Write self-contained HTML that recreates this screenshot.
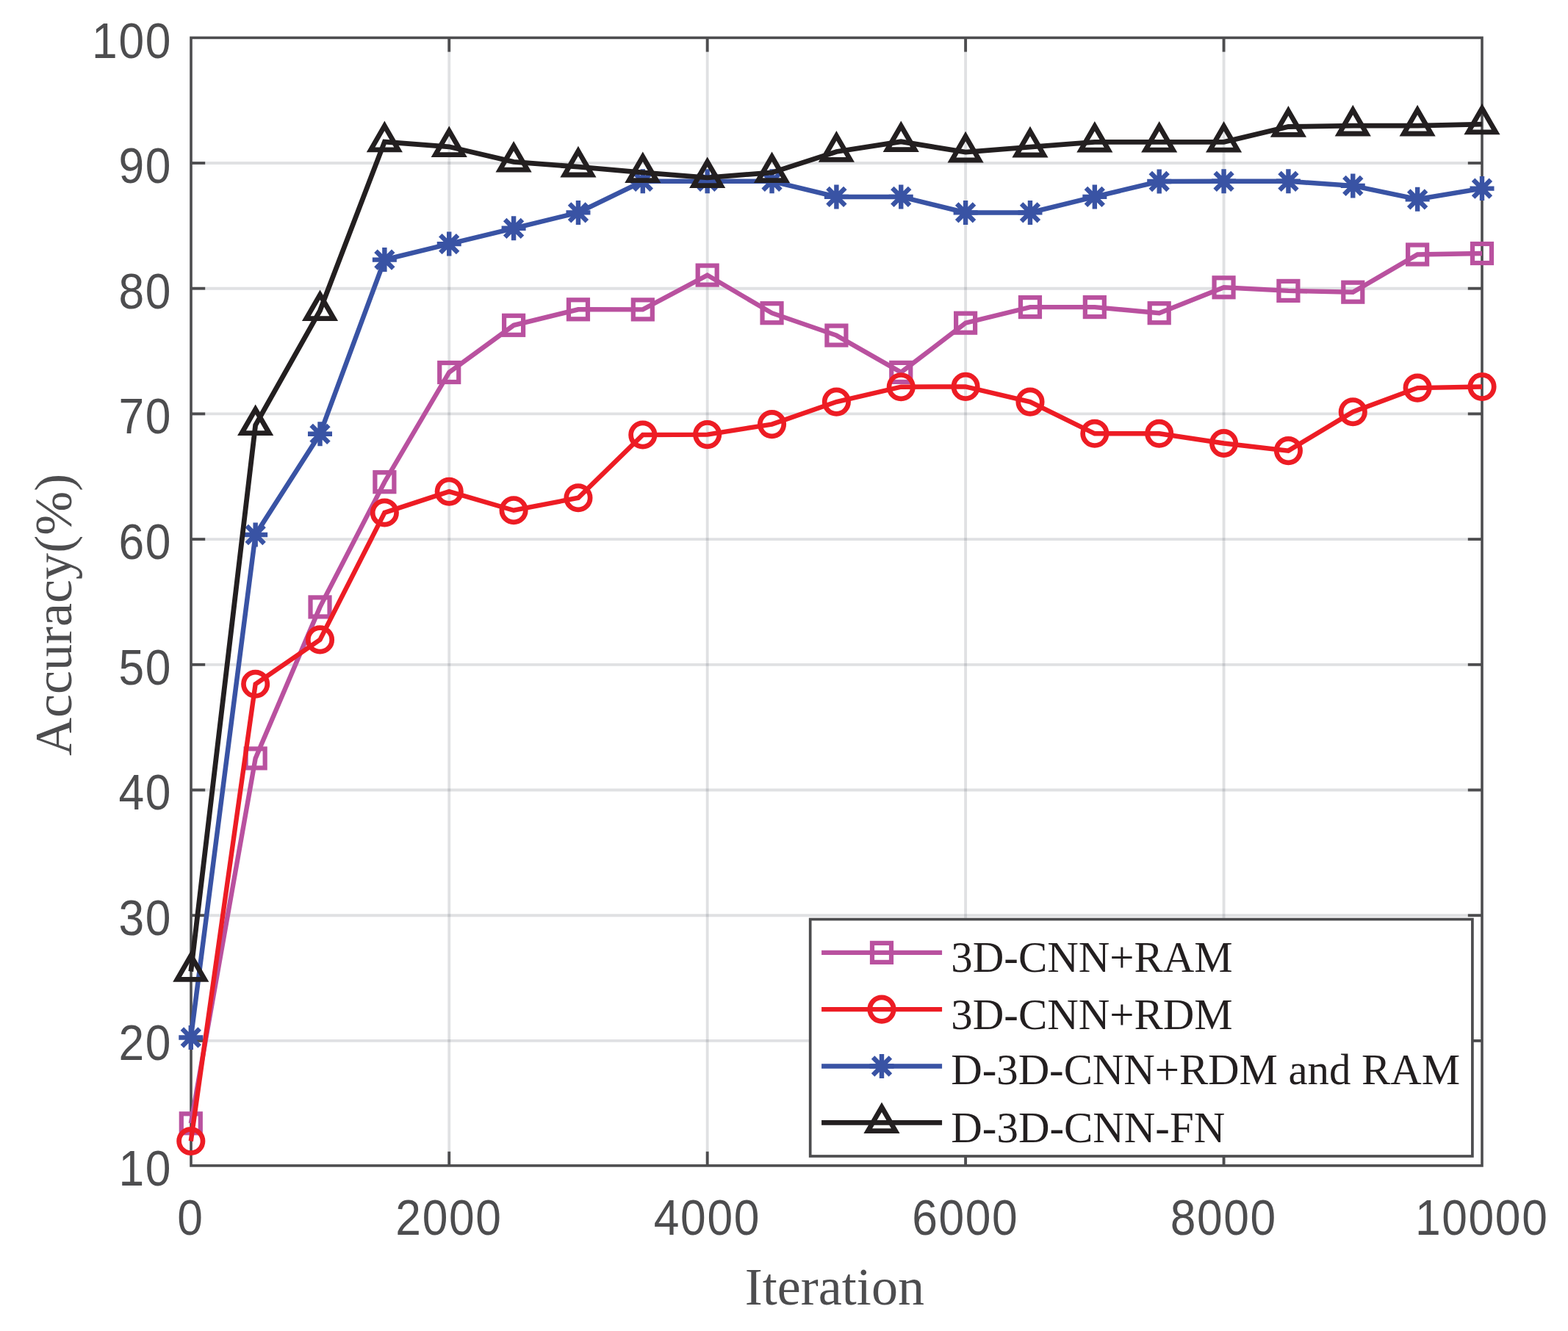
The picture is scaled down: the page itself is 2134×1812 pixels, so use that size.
<!DOCTYPE html>
<html lang="en"><head><meta charset="utf-8"><title>Accuracy vs Iteration</title>
<style>html,body{margin:0;padding:0;background:#fff}svg{display:block}.tk{font-family:"Liberation Sans",Arial,Helvetica,sans-serif;font-size:65.3px;fill:#4d4d4f}.lb{font-family:"Liberation Serif","Times New Roman",Times,serif;font-size:72.1px;fill:#4d4d4f}.lg{font-family:"Liberation Serif","Times New Roman",Times,serif;font-size:58.9px;fill:#231f20}</style></head><body>
<svg role="img" aria-label="Accuracy versus iteration for four models" width="2134" height="1812" viewBox="0 0 2134 1812">
<rect width="2134" height="1812" fill="#fff"/>
<g stroke="#222937" stroke-opacity="0.14" stroke-width="3.85" fill="none"><line x1="611.24" y1="51.4" x2="611.24" y2="1586.9"/><line x1="962.68" y1="51.4" x2="962.68" y2="1586.9"/><line x1="1314.12" y1="51.4" x2="1314.12" y2="1586.9"/><line x1="1665.56" y1="51.4" x2="1665.56" y2="1586.9"/><line x1="260" y1="1416.9" x2="2017" y2="1416.9"/><line x1="260" y1="1246.2" x2="2017" y2="1246.2"/><line x1="260" y1="1075.5" x2="2017" y2="1075.5"/><line x1="260" y1="904.8" x2="2017" y2="904.8"/><line x1="260" y1="734.1" x2="2017" y2="734.1"/><line x1="260" y1="563.4" x2="2017" y2="563.4"/><line x1="260" y1="392.7" x2="2017" y2="392.7"/><line x1="260" y1="222" x2="2017" y2="222"/></g>
<g stroke="#4d4d4f" stroke-width="3.85" fill="none">
<rect x="260" y="51.4" width="1757" height="1535.5" stroke-width="3.6"/>
<line x1="611.24" y1="1586.9" x2="611.24" y2="1567.7"/><line x1="611.24" y1="51.4" x2="611.24" y2="70.6"/><line x1="962.68" y1="1586.9" x2="962.68" y2="1567.7"/><line x1="962.68" y1="51.4" x2="962.68" y2="70.6"/><line x1="1314.12" y1="1586.9" x2="1314.12" y2="1567.7"/><line x1="1314.12" y1="51.4" x2="1314.12" y2="70.6"/><line x1="1665.56" y1="1586.9" x2="1665.56" y2="1567.7"/><line x1="1665.56" y1="51.4" x2="1665.56" y2="70.6"/><line x1="260" y1="1416.9" x2="279.2" y2="1416.9"/><line x1="2017" y1="1416.9" x2="1997.8" y2="1416.9"/><line x1="260" y1="1246.2" x2="279.2" y2="1246.2"/><line x1="2017" y1="1246.2" x2="1997.8" y2="1246.2"/><line x1="260" y1="1075.5" x2="279.2" y2="1075.5"/><line x1="2017" y1="1075.5" x2="1997.8" y2="1075.5"/><line x1="260" y1="904.8" x2="279.2" y2="904.8"/><line x1="2017" y1="904.8" x2="1997.8" y2="904.8"/><line x1="260" y1="734.1" x2="279.2" y2="734.1"/><line x1="2017" y1="734.1" x2="1997.8" y2="734.1"/><line x1="260" y1="563.4" x2="279.2" y2="563.4"/><line x1="2017" y1="563.4" x2="1997.8" y2="563.4"/><line x1="260" y1="392.7" x2="279.2" y2="392.7"/><line x1="2017" y1="392.7" x2="1997.8" y2="392.7"/><line x1="260" y1="222" x2="279.2" y2="222"/><line x1="2017" y1="222" x2="1997.8" y2="222"/>
</g>
<g class="tk" text-anchor="end" style="letter-spacing:1.7px">
<text transform="translate(234 1613.5) scale(0.955 1.055)">10</text>
<text transform="translate(234 1443.03) scale(0.955 1.055)">20</text>
<text transform="translate(234 1272.55) scale(0.955 1.055)">30</text>
<text transform="translate(234 1102.08) scale(0.955 1.055)">40</text>
<text transform="translate(234 931.6) scale(0.955 1.055)">50</text>
<text transform="translate(234 761) scale(0.955 1.055)">60</text>
<text transform="translate(234 590.4) scale(0.955 1.055)">70</text>
<text transform="translate(234 419.8) scale(0.955 1.055)">80</text>
<text transform="translate(234 249.2) scale(0.955 1.055)">90</text>
<text transform="translate(234 78.9) scale(0.955 1.055)">100</text>
</g>
<g class="tk" text-anchor="middle" style="letter-spacing:1.7px">
<text transform="translate(259.5 1680.5) scale(0.955 1.055)">0</text>
<text transform="translate(610.94 1680.5) scale(0.955 1.055)">2000</text>
<text transform="translate(962.38 1680.5) scale(0.955 1.055)">4000</text>
<text transform="translate(1313.82 1680.5) scale(0.955 1.055)">6000</text>
<text transform="translate(1665.26 1680.5) scale(0.955 1.055)">8000</text>
<text transform="translate(2016.7 1680.5) scale(0.955 1.055)">10000</text>
</g>
<text class="lb" text-anchor="middle" x="1135.9" y="1775.5">Iteration</text>
<text class="lb" text-anchor="middle" transform="translate(97.1 836.9) rotate(-90)">Accuracy(%)</text>
<g>
<polyline points="259.8,1529.3 347.66,1032.4 435.52,826.4 523.38,656.2 611.24,507 699.1,442.8 786.96,421.3 874.82,421.4 962.68,374.6 1050.54,426.2 1138.4,456.6 1226.26,506.9 1314.12,439.7 1401.98,418.1 1489.84,418.1 1577.7,426.2 1665.56,391.3 1753.42,395.9 1841.28,397.7 1929.14,346.5 2017,345" fill="none" stroke="#b9519f" stroke-width="6.4" stroke-linejoin="miter" stroke-miterlimit="10"/>
<rect x="246.8" y="1516.3" width="26" height="26" fill="none" stroke="#b9519f" stroke-width="6.2"/><rect x="334.66" y="1019.4" width="26" height="26" fill="none" stroke="#b9519f" stroke-width="6.2"/><rect x="422.52" y="813.4" width="26" height="26" fill="none" stroke="#b9519f" stroke-width="6.2"/><rect x="510.38" y="643.2" width="26" height="26" fill="none" stroke="#b9519f" stroke-width="6.2"/><rect x="598.24" y="494" width="26" height="26" fill="none" stroke="#b9519f" stroke-width="6.2"/><rect x="686.1" y="429.8" width="26" height="26" fill="none" stroke="#b9519f" stroke-width="6.2"/><rect x="773.96" y="408.3" width="26" height="26" fill="none" stroke="#b9519f" stroke-width="6.2"/><rect x="861.82" y="408.4" width="26" height="26" fill="none" stroke="#b9519f" stroke-width="6.2"/><rect x="949.68" y="361.6" width="26" height="26" fill="none" stroke="#b9519f" stroke-width="6.2"/><rect x="1037.54" y="413.2" width="26" height="26" fill="none" stroke="#b9519f" stroke-width="6.2"/><rect x="1125.4" y="443.6" width="26" height="26" fill="none" stroke="#b9519f" stroke-width="6.2"/><rect x="1213.26" y="493.9" width="26" height="26" fill="none" stroke="#b9519f" stroke-width="6.2"/><rect x="1301.12" y="426.7" width="26" height="26" fill="none" stroke="#b9519f" stroke-width="6.2"/><rect x="1388.98" y="405.1" width="26" height="26" fill="none" stroke="#b9519f" stroke-width="6.2"/><rect x="1476.84" y="405.1" width="26" height="26" fill="none" stroke="#b9519f" stroke-width="6.2"/><rect x="1564.7" y="413.2" width="26" height="26" fill="none" stroke="#b9519f" stroke-width="6.2"/><rect x="1652.56" y="378.3" width="26" height="26" fill="none" stroke="#b9519f" stroke-width="6.2"/><rect x="1740.42" y="382.9" width="26" height="26" fill="none" stroke="#b9519f" stroke-width="6.2"/><rect x="1828.28" y="384.7" width="26" height="26" fill="none" stroke="#b9519f" stroke-width="6.2"/><rect x="1916.14" y="333.5" width="26" height="26" fill="none" stroke="#b9519f" stroke-width="6.2"/><rect x="2004" y="332" width="26" height="26" fill="none" stroke="#b9519f" stroke-width="6.2"/>
</g>
<g>
<polyline points="259.8,1553.5 347.66,931.3 435.52,870.9 523.38,698 611.24,669.2 699.1,694.7 786.96,677.7 874.82,592 962.68,591.6 1050.54,577.6 1138.4,547.1 1226.26,526.7 1314.12,526.4 1401.98,547.1 1489.84,590.3 1577.7,590.3 1665.56,603.5 1753.42,613.6 1841.28,560.7 1929.14,528.1 2017,526.5" fill="none" stroke="#ed1c24" stroke-width="6.4" stroke-linejoin="miter" stroke-miterlimit="10"/>
<circle cx="259.8" cy="1553.5" r="16.2" fill="none" stroke="#ed1c24" stroke-width="6.7"/><circle cx="347.66" cy="931.3" r="16.2" fill="none" stroke="#ed1c24" stroke-width="6.7"/><circle cx="435.52" cy="870.9" r="16.2" fill="none" stroke="#ed1c24" stroke-width="6.7"/><circle cx="523.38" cy="698" r="16.2" fill="none" stroke="#ed1c24" stroke-width="6.7"/><circle cx="611.24" cy="669.2" r="16.2" fill="none" stroke="#ed1c24" stroke-width="6.7"/><circle cx="699.1" cy="694.7" r="16.2" fill="none" stroke="#ed1c24" stroke-width="6.7"/><circle cx="786.96" cy="677.7" r="16.2" fill="none" stroke="#ed1c24" stroke-width="6.7"/><circle cx="874.82" cy="592" r="16.2" fill="none" stroke="#ed1c24" stroke-width="6.7"/><circle cx="962.68" cy="591.6" r="16.2" fill="none" stroke="#ed1c24" stroke-width="6.7"/><circle cx="1050.54" cy="577.6" r="16.2" fill="none" stroke="#ed1c24" stroke-width="6.7"/><circle cx="1138.4" cy="547.1" r="16.2" fill="none" stroke="#ed1c24" stroke-width="6.7"/><circle cx="1226.26" cy="526.7" r="16.2" fill="none" stroke="#ed1c24" stroke-width="6.7"/><circle cx="1314.12" cy="526.4" r="16.2" fill="none" stroke="#ed1c24" stroke-width="6.7"/><circle cx="1401.98" cy="547.1" r="16.2" fill="none" stroke="#ed1c24" stroke-width="6.7"/><circle cx="1489.84" cy="590.3" r="16.2" fill="none" stroke="#ed1c24" stroke-width="6.7"/><circle cx="1577.7" cy="590.3" r="16.2" fill="none" stroke="#ed1c24" stroke-width="6.7"/><circle cx="1665.56" cy="603.5" r="16.2" fill="none" stroke="#ed1c24" stroke-width="6.7"/><circle cx="1753.42" cy="613.6" r="16.2" fill="none" stroke="#ed1c24" stroke-width="6.7"/><circle cx="1841.28" cy="560.7" r="16.2" fill="none" stroke="#ed1c24" stroke-width="6.7"/><circle cx="1929.14" cy="528.1" r="16.2" fill="none" stroke="#ed1c24" stroke-width="6.7"/><circle cx="2017" cy="526.5" r="16.2" fill="none" stroke="#ed1c24" stroke-width="6.7"/>
</g>
<g>
<polyline points="259.8,1412.5 347.66,728 435.52,590.8 523.38,353.6 611.24,332.1 699.1,310.8 786.96,289.4 874.82,246.8 962.68,246.8 1050.54,246.8 1138.4,267.9 1226.26,267.9 1314.12,289.4 1401.98,289.4 1489.84,267.9 1577.7,247 1665.56,246.8 1753.42,246.8 1841.28,252.9 1929.14,271.3 2017,256.6" fill="none" stroke="#3953a4" stroke-width="6.5" stroke-linejoin="miter" stroke-miterlimit="10"/>
<path d="M243.3 1412.5H276.3M259.8 1396V1429M247.9 1400.6L271.7 1424.4M247.9 1424.4L271.7 1400.6" fill="none" stroke="#3953a4" stroke-width="6.4"/><path d="M331.16 728H364.16M347.66 711.5V744.5M335.76 716.1L359.56 739.9M335.76 739.9L359.56 716.1" fill="none" stroke="#3953a4" stroke-width="6.4"/><path d="M419.02 590.8H452.02M435.52 574.3V607.3M423.62 578.9L447.42 602.7M423.62 602.7L447.42 578.9" fill="none" stroke="#3953a4" stroke-width="6.4"/><path d="M506.88 353.6H539.88M523.38 337.1V370.1M511.48 341.7L535.28 365.5M511.48 365.5L535.28 341.7" fill="none" stroke="#3953a4" stroke-width="6.4"/><path d="M594.74 332.1H627.74M611.24 315.6V348.6M599.34 320.2L623.14 344M599.34 344L623.14 320.2" fill="none" stroke="#3953a4" stroke-width="6.4"/><path d="M682.6 310.8H715.6M699.1 294.3V327.3M687.2 298.9L711 322.7M687.2 322.7L711 298.9" fill="none" stroke="#3953a4" stroke-width="6.4"/><path d="M770.46 289.4H803.46M786.96 272.9V305.9M775.06 277.5L798.86 301.3M775.06 301.3L798.86 277.5" fill="none" stroke="#3953a4" stroke-width="6.4"/><path d="M858.32 246.8H891.32M874.82 230.3V263.3M862.92 234.9L886.72 258.7M862.92 258.7L886.72 234.9" fill="none" stroke="#3953a4" stroke-width="6.4"/><path d="M946.18 246.8H979.18M962.68 230.3V263.3M950.78 234.9L974.58 258.7M950.78 258.7L974.58 234.9" fill="none" stroke="#3953a4" stroke-width="6.4"/><path d="M1034.04 246.8H1067.04M1050.54 230.3V263.3M1038.64 234.9L1062.44 258.7M1038.64 258.7L1062.44 234.9" fill="none" stroke="#3953a4" stroke-width="6.4"/><path d="M1121.9 267.9H1154.9M1138.4 251.4V284.4M1126.5 256L1150.3 279.8M1126.5 279.8L1150.3 256" fill="none" stroke="#3953a4" stroke-width="6.4"/><path d="M1209.76 267.9H1242.76M1226.26 251.4V284.4M1214.36 256L1238.16 279.8M1214.36 279.8L1238.16 256" fill="none" stroke="#3953a4" stroke-width="6.4"/><path d="M1297.62 289.4H1330.62M1314.12 272.9V305.9M1302.22 277.5L1326.02 301.3M1302.22 301.3L1326.02 277.5" fill="none" stroke="#3953a4" stroke-width="6.4"/><path d="M1385.48 289.4H1418.48M1401.98 272.9V305.9M1390.08 277.5L1413.88 301.3M1390.08 301.3L1413.88 277.5" fill="none" stroke="#3953a4" stroke-width="6.4"/><path d="M1473.34 267.9H1506.34M1489.84 251.4V284.4M1477.94 256L1501.74 279.8M1477.94 279.8L1501.74 256" fill="none" stroke="#3953a4" stroke-width="6.4"/><path d="M1561.2 247H1594.2M1577.7 230.5V263.5M1565.8 235.1L1589.6 258.9M1565.8 258.9L1589.6 235.1" fill="none" stroke="#3953a4" stroke-width="6.4"/><path d="M1649.06 246.8H1682.06M1665.56 230.3V263.3M1653.66 234.9L1677.46 258.7M1653.66 258.7L1677.46 234.9" fill="none" stroke="#3953a4" stroke-width="6.4"/><path d="M1736.92 246.8H1769.92M1753.42 230.3V263.3M1741.52 234.9L1765.32 258.7M1741.52 258.7L1765.32 234.9" fill="none" stroke="#3953a4" stroke-width="6.4"/><path d="M1824.78 252.9H1857.78M1841.28 236.4V269.4M1829.38 241L1853.18 264.8M1829.38 264.8L1853.18 241" fill="none" stroke="#3953a4" stroke-width="6.4"/><path d="M1912.64 271.3H1945.64M1929.14 254.8V287.8M1917.24 259.4L1941.04 283.2M1917.24 283.2L1941.04 259.4" fill="none" stroke="#3953a4" stroke-width="6.4"/><path d="M2000.5 256.6H2033.5M2017 240.1V273.1M2005.1 244.7L2028.9 268.5M2005.1 268.5L2028.9 244.7" fill="none" stroke="#3953a4" stroke-width="6.4"/>
</g>
<g>
<polyline points="259.8,1322.5 347.66,578.9 435.52,422.8 523.38,193 611.24,199.8 699.1,220.3 786.96,227.2 874.82,234.9 962.68,241.8 1050.54,234.9 1138.4,206.5 1226.26,192.8 1314.12,207.2 1401.98,200.2 1489.84,193.3 1577.7,193.3 1665.56,193.3 1753.42,172.5 1841.28,171.2 1929.14,171.2 2017,169.1" fill="none" stroke="#231f20" stroke-width="6.8" stroke-linejoin="miter" stroke-miterlimit="10"/>
<path d="M259.8 1300.9L278.5 1333.3L241.1 1333.3Z" fill="none" stroke="#231f20" stroke-width="6.8" stroke-linejoin="miter" stroke-miterlimit="10"/><path d="M347.66 557.3L366.36 589.7L328.96 589.7Z" fill="none" stroke="#231f20" stroke-width="6.8" stroke-linejoin="miter" stroke-miterlimit="10"/><path d="M435.52 401.2L454.22 433.6L416.82 433.6Z" fill="none" stroke="#231f20" stroke-width="6.8" stroke-linejoin="miter" stroke-miterlimit="10"/><path d="M523.38 171.4L542.08 203.8L504.68 203.8Z" fill="none" stroke="#231f20" stroke-width="6.8" stroke-linejoin="miter" stroke-miterlimit="10"/><path d="M611.24 178.2L629.94 210.6L592.54 210.6Z" fill="none" stroke="#231f20" stroke-width="6.8" stroke-linejoin="miter" stroke-miterlimit="10"/><path d="M699.1 198.7L717.8 231.1L680.4 231.1Z" fill="none" stroke="#231f20" stroke-width="6.8" stroke-linejoin="miter" stroke-miterlimit="10"/><path d="M786.96 205.6L805.66 238L768.26 238Z" fill="none" stroke="#231f20" stroke-width="6.8" stroke-linejoin="miter" stroke-miterlimit="10"/><path d="M874.82 213.3L893.52 245.7L856.12 245.7Z" fill="none" stroke="#231f20" stroke-width="6.8" stroke-linejoin="miter" stroke-miterlimit="10"/><path d="M962.68 220.2L981.38 252.6L943.98 252.6Z" fill="none" stroke="#231f20" stroke-width="6.8" stroke-linejoin="miter" stroke-miterlimit="10"/><path d="M1050.54 213.3L1069.24 245.7L1031.84 245.7Z" fill="none" stroke="#231f20" stroke-width="6.8" stroke-linejoin="miter" stroke-miterlimit="10"/><path d="M1138.4 184.9L1157.1 217.3L1119.7 217.3Z" fill="none" stroke="#231f20" stroke-width="6.8" stroke-linejoin="miter" stroke-miterlimit="10"/><path d="M1226.26 171.2L1244.96 203.6L1207.56 203.6Z" fill="none" stroke="#231f20" stroke-width="6.8" stroke-linejoin="miter" stroke-miterlimit="10"/><path d="M1314.12 185.6L1332.82 218L1295.42 218Z" fill="none" stroke="#231f20" stroke-width="6.8" stroke-linejoin="miter" stroke-miterlimit="10"/><path d="M1401.98 178.6L1420.68 211L1383.28 211Z" fill="none" stroke="#231f20" stroke-width="6.8" stroke-linejoin="miter" stroke-miterlimit="10"/><path d="M1489.84 171.7L1508.54 204.1L1471.14 204.1Z" fill="none" stroke="#231f20" stroke-width="6.8" stroke-linejoin="miter" stroke-miterlimit="10"/><path d="M1577.7 171.7L1596.4 204.1L1559 204.1Z" fill="none" stroke="#231f20" stroke-width="6.8" stroke-linejoin="miter" stroke-miterlimit="10"/><path d="M1665.56 171.7L1684.26 204.1L1646.86 204.1Z" fill="none" stroke="#231f20" stroke-width="6.8" stroke-linejoin="miter" stroke-miterlimit="10"/><path d="M1753.42 150.9L1772.12 183.3L1734.72 183.3Z" fill="none" stroke="#231f20" stroke-width="6.8" stroke-linejoin="miter" stroke-miterlimit="10"/><path d="M1841.28 149.6L1859.98 182L1822.58 182Z" fill="none" stroke="#231f20" stroke-width="6.8" stroke-linejoin="miter" stroke-miterlimit="10"/><path d="M1929.14 149.6L1947.84 182L1910.44 182Z" fill="none" stroke="#231f20" stroke-width="6.8" stroke-linejoin="miter" stroke-miterlimit="10"/><path d="M2017 147.5L2035.7 179.9L1998.3 179.9Z" fill="none" stroke="#231f20" stroke-width="6.8" stroke-linejoin="miter" stroke-miterlimit="10"/>
</g>
<rect x="1102.7" y="1251.5" width="901.2" height="322.5" fill="#fff" stroke="#4d4d4f" stroke-width="3.7"/>
<line x1="1118.1" y1="1296.9" x2="1282.1" y2="1296.9" stroke="#b9519f" stroke-width="6.4"/>
<rect x="1187" y="1283.9" width="26" height="26" fill="none" stroke="#b9519f" stroke-width="6.2"/>
<text class="lg" x="1294.3" y="1323.3">3D-CNN+RAM</text>
<line x1="1118.1" y1="1374.1" x2="1282.1" y2="1374.1" stroke="#ed1c24" stroke-width="6.4"/>
<circle cx="1200" cy="1374.1" r="16.2" fill="none" stroke="#ed1c24" stroke-width="6.7"/>
<text class="lg" x="1294.3" y="1401.3">3D-CNN+RDM</text>
<line x1="1118.1" y1="1451.5" x2="1282.1" y2="1451.5" stroke="#3953a4" stroke-width="6.5"/>
<path d="M1183.5 1451.5H1216.5M1200 1435V1468M1188.1 1439.6L1211.9 1463.4M1188.1 1463.4L1211.9 1439.6" fill="none" stroke="#3953a4" stroke-width="6.4"/>
<text class="lg" x="1294.3" y="1475.9" textLength="692.7" lengthAdjust="spacing">D-3D-CNN+RDM and RAM</text>
<line x1="1118.1" y1="1528.4" x2="1282.1" y2="1528.4" stroke="#231f20" stroke-width="6.8"/>
<path d="M1200 1507.2L1218.7 1539.6L1181.3 1539.6Z" fill="none" stroke="#231f20" stroke-width="6.8" stroke-linejoin="miter" stroke-miterlimit="10"/>
<text class="lg" x="1294.3" y="1555">D-3D-CNN-FN</text>
</svg></body></html>
